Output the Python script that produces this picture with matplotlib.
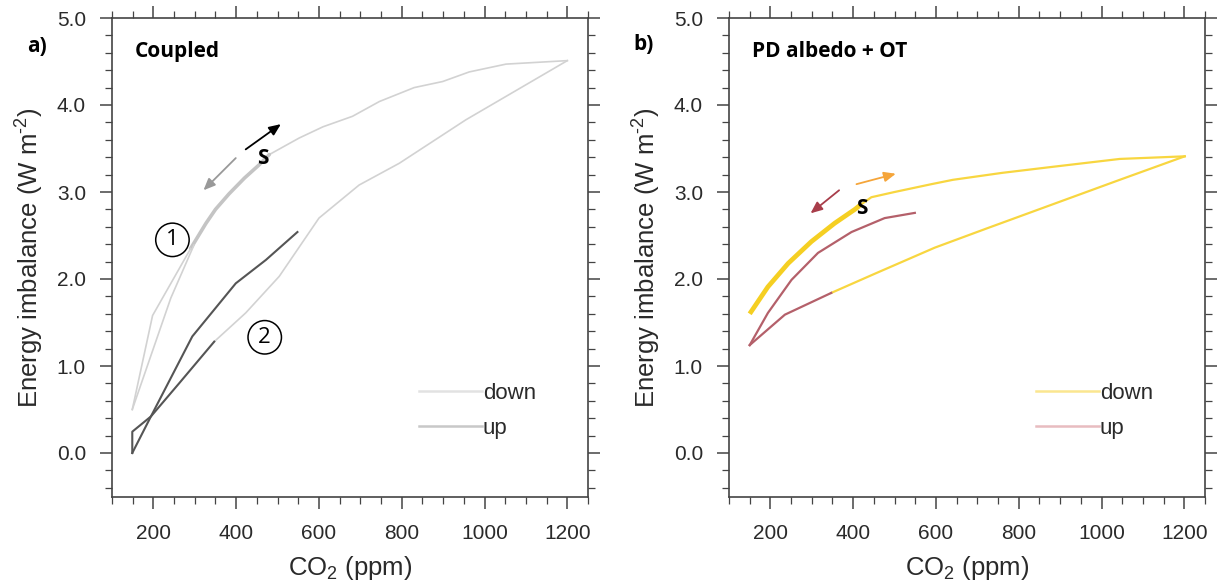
import matplotlib
matplotlib.use("Agg")
import matplotlib.pyplot as plt
from matplotlib.lines import Line2D
from matplotlib.ticker import MultipleLocator, FormatStrFormatter

plt.rcParams['font.family'] = ['Liberation Sans', 'DejaVu Sans']
plt.rcParams['mathtext.fontset'] = 'custom'
plt.rcParams['mathtext.rm'] = 'Liberation Sans'
plt.rcParams['mathtext.it'] = 'Liberation Sans:italic'
plt.rcParams['mathtext.bf'] = 'Liberation Sans:bold'

# ---------------- data: panel a (Coupled) ----------------
a_top_x = [1200, 1052, 963, 899, 830, 746, 681, 610, 552, 480]
a_top_y = [4.51, 4.47, 4.38, 4.27, 4.20, 4.04, 3.87, 3.75, 3.62, 3.43]
a_mid_x = [480, 455, 420, 383, 350, 327, 290]
a_mid_y = [3.43, 3.31, 3.16, 2.98, 2.80, 2.64, 2.35]
a_lens1_x = [290, 198, 149]
a_lens1_y = [2.35, 1.58, 0.50]
a_lens2_x = [298, 242, 149]
a_lens2_y = [2.39, 1.78, 0.50]
a_low_x = [1200, 955, 794, 697, 600, 504, 423, 347]
a_low_y = [4.51, 3.83, 3.33, 3.08, 2.70, 2.03, 1.61, 1.28]
a_dark2_x = [347, 262, 194, 149, 149]
a_dark2_y = [1.28, 0.80, 0.42, 0.245, 0.0]
a_dark1_x = [149, 194, 294, 399, 472, 548]
a_dark1_y = [0.0, 0.42, 1.34, 1.95, 2.22, 2.54]

# ---------------- data: panel b (PD albedo + OT) ----------------
b_thick_x = [150, 194, 243, 299, 355, 404, 420]
b_thick_y = [1.60, 1.91, 2.18, 2.43, 2.64, 2.80, 2.86]
b_top_x = [420, 444, 500, 589, 641, 760, 883, 1044, 1201]
b_top_y = [2.86, 2.94, 3.00, 3.09, 3.14, 3.22, 3.29, 3.38, 3.41]
b_low_x = [1201, 1044, 883, 722, 597, 452, 347]
b_low_y = [3.41, 3.14, 2.86, 2.58, 2.36, 2.06, 1.84]
b_redlow_x = [347, 235, 150]
b_redlow_y = [1.84, 1.59, 1.24]
b_redup_x = [150, 194, 251, 315, 396, 476, 549]
b_redup_y = [1.24, 1.61, 1.99, 2.30, 2.54, 2.70, 2.76]

# ticks
x_major = [200, 400, 600, 800, 1000, 1200]
y_major = [0.0, 1.0, 2.0, 3.0, 4.0, 5.0]

legend_labels = ['down', 'up']

# annotation positions (data units)
a_arrow_up = [(423, 3.49), (508, 3.78)]
a_arrow_down = [(399, 3.39), (321, 3.02)]
b_arrow_up = [(408, 3.09), (503, 3.21)]
b_arrow_down = [(366, 3.02), (297, 2.755)]
a_S = (465, 3.38)
b_S = (420, 2.81)
a_circle1 = (246, 2.45)
a_circle2 = (469, 1.33)

# ---------------- figure ----------------
W, H = 1220, 586
fig = plt.figure(figsize=(W / 100, H / 100), dpi=100)
bottom = (H - 496.5) / H
height = 478.5 / H
ax_a = fig.add_axes([112 / W, bottom, 476 / W, height])
ax_b = fig.add_axes([729 / W, bottom, 476 / W, height])

spine_col = '#444444'
text_col = '#2a2a2a'
bold_font = ['Open Sans', 'DejaVu Sans']

for ax in (ax_a, ax_b):
    ax.set_xlim(100, 1250)
    ax.set_ylim(-0.5, 5.0)
    ax.set_xticks(x_major)
    ax.set_yticks(y_major)
    ax.xaxis.set_minor_locator(MultipleLocator(50))
    ax.yaxis.set_minor_locator(MultipleLocator(0.2))
    ax.yaxis.set_major_formatter(FormatStrFormatter('%.1f'))
    ax.tick_params(which='both', direction='out', top=True, right=True,
                   labeltop=False, labelright=False, color=spine_col,
                   labelcolor=text_col, labelsize=15)
    ax.tick_params(which='major', length=8.8, width=1.1)
    ax.tick_params(which='minor', length=5.2, width=0.9)
    ax.tick_params(axis='x', which='major', pad=11)
    ax.tick_params(axis='y', which='major', pad=10)
    for s in ax.spines.values():
        s.set_color(spine_col)
        s.set_linewidth(1.2)
    ax.set_xlabel('CO$_2$ (ppm)', fontsize=18.5, color=text_col, labelpad=8)
    ax.set_ylabel('Energy imbalance (W m$^{\\text{-}2}$)', fontsize=18.5,
                  color=text_col, labelpad=8)

# ---- panel a lines
light = '#d2d2d2'
dark = '#555555'
ax_a.plot(a_top_x, a_top_y, color=light, lw=1.2)
ax_a.plot(a_low_x, a_low_y, color=light, lw=1.2)
ax_a.plot(a_mid_x, a_mid_y, color='#c4c4c4', lw=2.6, solid_capstyle='round')
ax_a.plot(a_lens1_x, a_lens1_y, color=light, lw=1.2)
ax_a.plot(a_lens2_x, a_lens2_y, color=light, lw=1.2)
ax_a.plot(a_dark2_x, a_dark2_y, color=dark, lw=1.5)
ax_a.plot(a_dark1_x, a_dark1_y, color=dark, lw=1.5)

# ---- panel b lines
yel = '#f8d640'
red = '#b4606a'
ax_b.plot(b_top_x, b_top_y, color=yel, lw=1.6)
ax_b.plot(b_low_x, b_low_y, color=yel, lw=1.6)
ax_b.plot(b_thick_x, b_thick_y, color='#f5cf22', lw=3.4, solid_capstyle='butt')
ax_b.plot(b_redlow_x, b_redlow_y, color=red, lw=1.6)
ax_b.plot(b_redup_x, b_redup_y, color=red, lw=1.6)

# ---- arrows
def arrow(ax, pts, col):
    ax.annotate('', xy=pts[1], xytext=pts[0],
                arrowprops=dict(arrowstyle='-|>,head_length=0.7,head_width=0.3',
                                color=col, lw=1.3, shrinkA=0, shrinkB=0),
                annotation_clip=False)

arrow(ax_a, a_arrow_up, '#000000')
arrow(ax_a, a_arrow_down, '#999999')
arrow(ax_b, b_arrow_up, '#f5a53a')
arrow(ax_b, b_arrow_down, '#a83d4a')

# ---- S labels, circled numbers
ax_a.text(*a_S, 'S', fontsize=15, fontweight='bold', family=bold_font,
          ha='center', va='center')
ax_b.text(*b_S, 'S', fontsize=15, fontweight='bold', family=bold_font,
          ha='center', va='center')
for pos, lab in ((a_circle1, '1'), (a_circle2, '2')):
    ax_a.text(*pos, lab, fontsize=16, family=bold_font, ha='center',
              va='center',
              bbox=dict(boxstyle='circle,pad=0.28', fc='white', ec='black',
                        lw=1.1))

# ---- titles
ax_a.text(0.048, 0.929, 'Coupled', transform=ax_a.transAxes, fontsize=15,
          fontweight='bold', family=bold_font, va='center', ha='left')
ax_b.text(0.048, 0.929, 'PD albedo + OT', transform=ax_b.transAxes,
          fontsize=15, fontweight='bold', family=bold_font, va='center',
          ha='left')
fig.text(37 / W, 1 - 47 / H, 'a)', fontsize=15, fontweight='bold',
         family=bold_font, ha='center', va='center')
fig.text(644 / W, 1 - 45 / H, 'b)', fontsize=15, fontweight='bold',
         family=bold_font, ha='center', va='center')

# ---- legends
def legend(ax, cols, anchor):
    handles = [Line2D([], [], color=c, lw=1.8) for c in cols]
    leg = ax.legend(handles, legend_labels, loc='upper left',
                    bbox_to_anchor=anchor, frameon=False, fontsize=16,
                    handlelength=2.8, handletextpad=0.05, labelspacing=0.63,
                    borderpad=0, borderaxespad=0)
    for t in leg.get_texts():
        t.set_color(text_col)

legend(ax_a, ['#e2e2e2', '#c8c8c8'], (0.6456, 0.238))
legend(ax_b, ['#fbe690', '#e8bcc0'], (0.6456, 0.238))

fig.savefig('out.png', dpi=100)
